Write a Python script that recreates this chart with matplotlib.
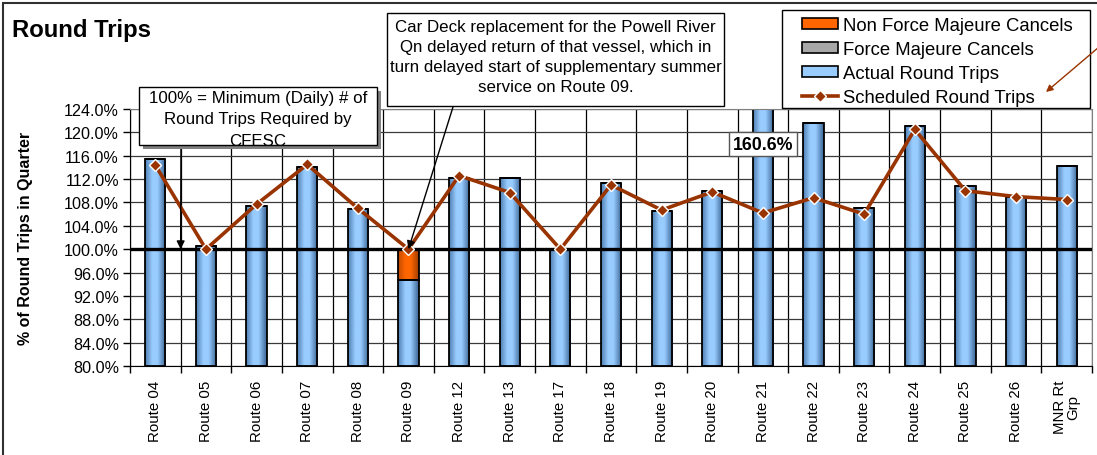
import numpy as np
import matplotlib
matplotlib.use('Agg')
import matplotlib.pyplot as plt
from matplotlib.colors import LinearSegmentedColormap
from matplotlib.patches import Rectangle, Patch, FancyArrowPatch
from matplotlib.lines import Line2D
from matplotlib.ticker import FuncFormatter

plt.rcParams['font.family'] = ['Liberation Sans', 'DejaVu Sans']

# data (% of minimum daily round trips)
routes = ['Route 04', 'Route 05', 'Route 06', 'Route 07', 'Route 08', 'Route 09',
          'Route 12', 'Route 13', 'Route 17', 'Route 18', 'Route 19', 'Route 20',
          'Route 21', 'Route 22', 'Route 23', 'Route 24', 'Route 25', 'Route 26',
          'MNR Rt\nGrp']
actual = [115.4, 100.6, 107.4, 114.1, 106.8, 94.8, 112.2, 112.2, 100.0, 111.3,
          106.5, 109.9, 160.6, 121.6, 107.0, 121.1, 110.8, 108.9, 114.3]
non_fm_cancels = [0, 0, 0, 0, 0, 5.2, 0, 0, 0, 0, 0, 0, 0, 0, 0, 0, 0, 0, 0]
fm_cancels = [0] * 19
scheduled = [114.4, 100.0, 107.7, 114.5, 107.0, 100.0, 112.6, 109.7, 100.0, 111.0,
             106.7, 109.8, 106.2, 108.8, 106.0, 120.5, 110.0, 109.0, 108.5]
min_required = 100.0
y_floor = 80.0

W, H = 1097, 456
BROWN = '#993300'

blue_cmap = LinearSegmentedColormap.from_list(
    'cyl_blue', [(0, '#4F7FB3'), (0.35, '#99CCFF'), (0.6, '#99CCFF'), (1, '#3A6494')])
orange_cmap = LinearSegmentedColormap.from_list(
    'cyl_orange', [(0, '#C04A00'), (0.35, '#FF6600'), (0.6, '#FF6600'), (1, '#A33D00')])
gray_cmap = LinearSegmentedColormap.from_list(
    'cyl_gray', [(0, '#707070'), (0.4, '#C8C8C8'), (1, '#606060')])


def px_box(x0, y0, x1, y1):
    # pixel box (top-left origin) -> figure fraction rect
    return (x0 / W, 1 - y1 / H, (x1 - x0) / W, (y1 - y0) / H)


def fill_gradient(ax, bars, cmap):
    grad = np.linspace(0, 1, 64).reshape(1, -1)
    for b in bars:
        if b.get_height() <= 0:
            continue
        x0, y0 = b.get_x(), b.get_y()
        ax.imshow(grad, cmap=cmap, aspect='auto', interpolation='bicubic',
                  extent=(x0, x0 + b.get_width(), y0, y0 + b.get_height()), zorder=2)


fig = plt.figure(figsize=(W / 100, H / 100), dpi=100)
ax = fig.add_axes([130 / W, 89 / H, 962 / W, 257 / H])

x = np.arange(len(routes))
act = np.array(actual)
bars_act = ax.bar(x, act - y_floor, bottom=y_floor, width=0.4, facecolor='none',
                  edgecolor='black', lw=1.3, zorder=2.5)
bars_fm = ax.bar(x, fm_cancels, bottom=act, width=0.4, facecolor='none',
                 edgecolor='black', lw=1.3, zorder=2.5)
bars_nfm = ax.bar(x, non_fm_cancels, bottom=act + np.array(fm_cancels), width=0.4,
                  facecolor='none', edgecolor='black', lw=1.3, zorder=2.5)
fill_gradient(ax, bars_act, blue_cmap)
fill_gradient(ax, bars_fm, gray_cmap)
fill_gradient(ax, bars_nfm, orange_cmap)

ax.axhline(min_required, color='black', lw=2.4, zorder=3)
ax.plot(x, scheduled, color=BROWN, lw=2.6, marker='D', ms=6.5, mfc=BROWN,
        mec='white', mew=1, zorder=4)

ax.set_xlim(-0.5, len(routes) - 0.5)
ax.set_ylim(y_floor, 124)
ax.set_yticks(np.arange(80, 125, 4))
ax.yaxis.set_major_formatter(FuncFormatter(lambda v, p: f'{v:.1f}%'))
ax.set_xticks(x)
ax.set_xticklabels(routes, rotation=90, fontsize=10.8, va='top', ha='center',
                   linespacing=0.95)
ax.set_xticks(np.arange(-0.5, len(routes), 1), minor=True)
ax.tick_params(axis='x', which='major', length=0, pad=10)
ax.tick_params(axis='x', which='minor', length=5, width=1, direction='out')
ax.tick_params(axis='y', labelsize=11.6, length=5, width=1, direction='out', pad=3)

ax.set_axisbelow(True)
ax.yaxis.grid(True, color='#3a3a3a', lw=0.9)
ax.xaxis.grid(True, which='minor', color='black', lw=0.9)
for s in ['left', 'bottom']:
    ax.spines[s].set_color('black')
for s in ['top', 'right']:
    ax.spines[s].set_color('#808080')

ax.set_ylabel('% of Round Trips in Quarter', fontsize=11.5, fontweight='bold')
ax.yaxis.set_label_coords(-(130 - 33) / 962, 0.5)

# label on the off-scale bar
ax.text(12, 118.0, '160.6%', fontsize=12.8, fontweight='bold', ha='center', va='center',
        zorder=6, bbox=dict(boxstyle='square,pad=0.22', fc='white', ec='#555555', lw=1))

fig.text(12 / W, 1 - 31 / H, 'Round Trips', fontsize=17.2, fontweight='bold',
         va='center', ha='left')

# outer chart border
fig.add_artist(Rectangle((3 / W, -0.1), 1.2, 1 - 4 / H + 0.1, transform=fig.transFigure,
                         fill=False, ec='#303030', lw=1.5))

# note 1 with shadow
x0, y0, w, h = px_box(139, 88, 377, 146)
fig.add_artist(Rectangle((x0 + 4 / W, y0 - 4 / H), w, h, transform=fig.transFigure,
                         fc='#808080', ec='none', zorder=7))
box1 = Rectangle((x0, y0), w, h, transform=fig.transFigure, fc='white', ec='black',
                 lw=1, zorder=8)
fig.add_artist(box1)
t1 = fig.text(x0 + w / 2, 1 - 120 / H,
              '100% = Minimum (Daily) # of\nRound Trips Required by\nCFESC',
              fontsize=12.2, ha='center', va='center', zorder=9, linespacing=1.58)
t1.set_clip_path(box1)
ax.annotate('', xy=(0.5, min_required), xycoords='data',
            xytext=(181, H - 146), textcoords='figure pixels',
            arrowprops=dict(arrowstyle='-|>', color='black', lw=1, mutation_scale=12,
                            shrinkA=0, shrinkB=0), zorder=5)

# note 2
x0, y0, w, h = px_box(387, 14, 724, 107)
box2 = Rectangle((x0, y0), w, h, transform=fig.transFigure, fc='white', ec='black',
                 lw=1, zorder=8)
fig.add_artist(box2)
t2 = fig.text(x0 + w / 2, 1 - 57.5 / H,
              'Car Deck replacement for the Powell River\nQn delayed return of that vessel, which in\n'
              'turn delayed start of supplementary summer\nservice on Route 09.',
              fontsize=12.2, ha='center', va='center', zorder=9, linespacing=1.43)
t2.set_clip_path(box2)
ax.annotate('', xy=(5, min_required), xycoords='data',
            xytext=(453, H - 108), textcoords='figure pixels',
            arrowprops=dict(arrowstyle='-|>', color='black', lw=1, mutation_scale=12,
                            shrinkA=0, shrinkB=0), zorder=5)

# legend: frame drawn separately so the padding matches
x0, y0, w, h = px_box(782, 11, 1090, 109)
fig.add_artist(Rectangle((x0, y0), w, h, transform=fig.transFigure, fc='white',
                         ec='black', lw=1, zorder=4.5))
handles = [Patch(facecolor='#FF6600', edgecolor='black', lw=1.2),
           Patch(facecolor='#A8A8A8', edgecolor='black', lw=1.2),
           Patch(facecolor='#99CCFF', edgecolor='black', lw=1.2),
           Line2D([], [], color=BROWN, lw=2.6, marker='D', ms=6, mfc=BROWN, mec='white')]
labels = ['Non Force Majeure Cancels', 'Force Majeure Cancels', 'Actual Round Trips',
          'Scheduled Round Trips']
leg = fig.legend(handles, labels, loc='upper left', bbox_to_anchor=(802 / W, 1 - 18 / H),
                 borderaxespad=0, borderpad=0, fontsize=13.3, frameon=False,
                 handlelength=1.95, handleheight=0.55, handletextpad=0.27,
                 labelspacing=0.38)

fig.add_artist(FancyArrowPatch(
    (1099 / W, 1 - 48 / H), (1046 / W, 1 - 93 / H), transform=fig.transFigure,
    arrowstyle='-|>', color=BROWN, lw=1, mutation_scale=10, shrinkA=0, shrinkB=0,
    zorder=10))

fig.savefig('out.png', dpi=100)
